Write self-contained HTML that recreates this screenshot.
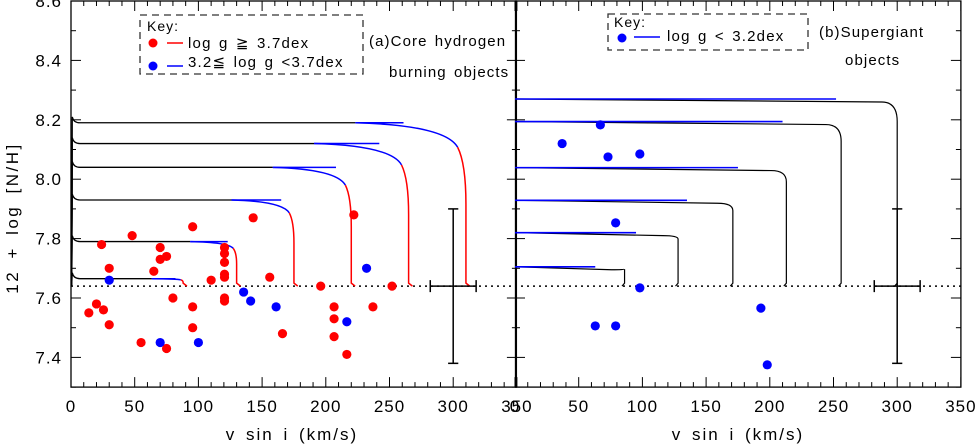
<!DOCTYPE html>
<html><head><meta charset="utf-8"><style>
html,body{margin:0;padding:0;background:#fff}
svg{display:block;font-family:"Liberation Sans","DejaVu Sans",sans-serif}
</style></head><body>
<svg id="chart" width="977" height="444" viewBox="0 0 977 444" xmlns="http://www.w3.org/2000/svg">
<g id="axes"></g>
<g id="marks"></g>
<text transform="translate(18,218) rotate(-90)" text-anchor="middle" font-size="17" letter-spacing="2.5" word-spacing="4" fill="#000">12 + log [N/H]</text>
<text x="292" y="440" text-anchor="middle" font-size="17" letter-spacing="2" word-spacing="3">v sin i (km/s)</text>
<text x="738" y="440" text-anchor="middle" font-size="17" letter-spacing="2" word-spacing="3">v sin i (km/s)</text>
<g>
<rect x="140" y="15" width="223" height="59" fill="none" stroke="#333" stroke-dasharray="7,5" stroke-width="1.3"/>
<text x="147" y="31" font-size="14" letter-spacing="1">Key:</text>
<circle cx="153" cy="43" r="4.5" fill="#f00"/><line x1="167" y1="43" x2="183" y2="43" stroke="#f00" stroke-width="1.5"/>
<text x="188" y="48" font-size="15" letter-spacing="1.2" word-spacing="2">log  g  ≧  3.7dex</text>
<circle cx="153" cy="66" r="4.5" fill="#00f"/><line x1="167" y1="66" x2="183" y2="66" stroke="#00f" stroke-width="1.5"/>
<text x="188" y="67" font-size="15" letter-spacing="1.2" word-spacing="2">3.2≦  log  g  &lt;3.7dex</text>
</g>
<text x="369" y="46" font-size="15" letter-spacing="1.1" word-spacing="2">(a)Core  hydrogen</text>
<text x="389" y="77" font-size="15" letter-spacing="1.1" word-spacing="2">burning  objects</text>
<g>
<rect x="608" y="14" width="200" height="36" fill="none" stroke="#333" stroke-dasharray="7,5" stroke-width="1.3"/>
<text x="614" y="27" font-size="14" letter-spacing="1">Key:</text>
<circle cx="622" cy="38" r="4.5" fill="#00f"/><line x1="634" y1="37" x2="660" y2="37" stroke="#00f" stroke-width="1.5"/>
<text x="667" y="41" font-size="15" letter-spacing="1.2" word-spacing="2">log  g  &lt;  3.2dex</text>
</g>
<text x="819" y="37" font-size="15" letter-spacing="1.1">(b)Supergiant</text>
<text x="845" y="65" font-size="15" letter-spacing="1.1">objects</text>
</svg>
<script>
const yTicks=[7.4,7.6,7.8,8.0,8.2,8.4,8.6];
const xTicks=[0,50,100,150,200,250,300,350];
const redX=[14,20,24,25.5,30,30,48,55,65,70,70,75,75,80,95.5,95.5,95.5,110,120.5,120.5,120.5,120.5,120.5,120.5,120.5,143,156,166,196,206.5,206.5,206.5,216.5,222,237,252];
const redY=[7.55,7.58,7.78,7.56,7.70,7.51,7.81,7.45,7.69,7.77,7.73,7.74,7.43,7.60,7.84,7.57,7.50,7.66,7.77,7.75,7.72,7.68,7.67,7.60,7.59,7.87,7.67,7.48,7.64,7.57,7.53,7.47,7.41,7.88,7.57,7.64];
const blueX=[30,70,100,135.5,141,161,216.5,232];
const blueY=[7.66,7.45,7.45,7.62,7.59,7.57,7.52,7.70];
const sgX=[37,67,73,98,79,98,63,79,193,198];
const sgY=[8.12,8.183,8.075,8.085,7.853,7.634,7.506,7.506,7.566,7.375];
const leftLevels=[8.19,8.12,8.04,7.93,7.79,7.665];
const leftVert=[310,265,220,175,130,88];
const leftSpike=[261,242,208,165,123,82];
const rightLevels=[8.27,8.194,8.039,7.929,7.82,7.705];
const rightVert=[300,256,213,171,128,86];
const rightBlue=[252,210,175,135,95,63];
const baseline=7.64;

const NS='http://www.w3.org/2000/svg';
const X0=[71,515],XS=1.274,Y0=1,YS=297,YTOP=8.6,YMIN=7.3;
function px(v,p){return X0[p]+v*XS;}
function py(v){return Y0+(YTOP-v)*YS;}
const axes=document.getElementById('axes'),marks=document.getElementById('marks');
function mk(tag,attrs,parent){const e=document.createElementNS(NS,tag);for(const k in attrs)e.setAttribute(k,attrs[k]);parent.appendChild(e);return e;}
const yb=py(YMIN);
for(let p=0;p<2;p++){
  const x1=p?X0[1]+0.5:X0[0];
  const r=mk('rect',{x:x1,y:Y0,width:px(350,p)-x1-(p?0:0.5),height:yb-Y0,fill:'none',stroke:'#000','stroke-width':1.3},axes);
  
  
  for(let v=0;v<=350;v+=10){
    const x=px(v,p),len=(v%50===0)?10:5;
    mk('line',{x1:x,y1:yb,x2:x,y2:yb-len,stroke:'#000'},axes);
    mk('line',{x1:x,y1:Y0,x2:x,y2:Y0+len,stroke:'#000'},axes);
  }
  xTicks.forEach(v=>{
    const t=mk('text',{x:px(v,p),y:yb+25,'text-anchor':'middle','font-size':17,'letter-spacing':1},axes);
    t.textContent=v;
    
    
  });
  for(let k=0;k<=13;k++){
    const v=YMIN+k*0.1,y=py(v),len=(k%2===1)?10:5;
    mk('line',{x1:X0[p],y1:y,x2:X0[p]+len,y2:y,stroke:'#000'},axes);
    mk('line',{x1:px(350,p),y1:y,x2:px(350,p)-len,y2:y,stroke:'#000'},axes);
  }
}
yTicks.forEach(v=>{
  const t=mk('text',{x:62,y:py(v)+6,'text-anchor':'end','font-size':17,'letter-spacing':1},axes);
  t.textContent=v.toFixed(1);
  
  
});
const bl=mk('line',{x1:X0[0],y1:py(baseline),x2:px(350,1),y2:py(baseline),stroke:'#000','stroke-width':1.5,'stroke-dasharray':'2,4'},marks);


leftLevels.forEach((L,i)=>{
  const xv=leftVert[i],xs=0.72*xv,d=L-baseline;
  const g=mk('g',{fill:'none'},marks);
  
  
  mk('path',{d:`M${px(0.5,0)},${py(baseline)} L${px(1,0)},${py(L+0.02)} Q${px(2,0)},${py(L)} ${px(7,0)},${py(L)} L${px(xs,0)},${py(L)}`,stroke:'#000','stroke-width':1.3},g);
  mk('line',{x1:px(xs,0),y1:py(L),x2:px(leftSpike[i],0),y2:py(L),stroke:'#00f','stroke-width':1.5},g);
  const Px=xv-0.075*(xv-xs),Py=L-0.15*d;
  mk('path',{d:`M${px(xs,0)},${py(L)} C${px(xs+0.55*(xv-xs),0)},${py(L-0.01*d)} ${px(xv-0.15*(xv-xs),0)},${py(L-0.06*d)} ${px(Px,0)},${py(Py)}`,stroke:'#00f','stroke-width':1.5},g);
  mk('path',{d:`M${px(Px,0)},${py(Py)} Q${px(xv,0)},${py(L-0.25*d)} ${px(xv,0)},${py(L-0.5*d)} L${px(xv,0)},${py(baseline+0.01)} L${px(xv+3,0)},${py(baseline)}`,stroke:'#f00','stroke-width':1.5},g);
});
rightLevels.forEach((L,i)=>{
  const xv=rightVert[i],d=L-baseline;
  const g=mk('g',{fill:'none'},marks);
  
  
  const c=Math.min(12,xv*0.12);
  mk('path',{d:`M${px(0,1)},${py(L)} L${px(xv-c,1)},${py(L-0.01)} Q${px(xv,1)},${py(L-0.01)} ${px(xv,1)},${py(L-0.12*d)} L${px(xv,1)},${py(baseline+0.01)} L${px(xv-2,1)},${py(baseline)}`,stroke:'#000','stroke-width':1.2},g);
  mk('line',{x1:px(0,1),y1:py(L),x2:px(rightBlue[i],1),y2:py(L),stroke:'#00f','stroke-width':1.6},g);
});
for(let p=0;p<2;p++){
  const g=mk('g',{stroke:'#000','stroke-width':1.5},marks);
  
  
  mk('line',{x1:px(300,p),y1:py(7.38),x2:px(300,p),y2:py(7.90)},g);
  mk('line',{x1:px(296,p),y1:py(7.38),x2:px(304,p),y2:py(7.38)},g);
  mk('line',{x1:px(296,p),y1:py(7.90),x2:px(304,p),y2:py(7.90)},g);
  mk('line',{x1:px(282,p),y1:py(baseline),x2:px(318,p),y2:py(baseline)},g);
  mk('line',{x1:px(282,p),y1:py(baseline)-6,x2:px(282,p),y2:py(baseline)+6},g);
  mk('line',{x1:px(318,p),y1:py(baseline)-6,x2:px(318,p),y2:py(baseline)+6},g);
}
function dots(xs,ys,p,col,name){
  xs.forEach((x,i)=>{
    const c=mk('circle',{cx:px(x,p),cy:py(ys[i]),r:4.6,fill:col},marks);
    
    
  });
}
dots(redX,redY,0,'#f00','star-high-logg');
dots(blueX,blueY,0,'#00f','star-mid-logg');
dots(sgX,sgY,1,'#00f','supergiant-star');
</script>
</body></html>
